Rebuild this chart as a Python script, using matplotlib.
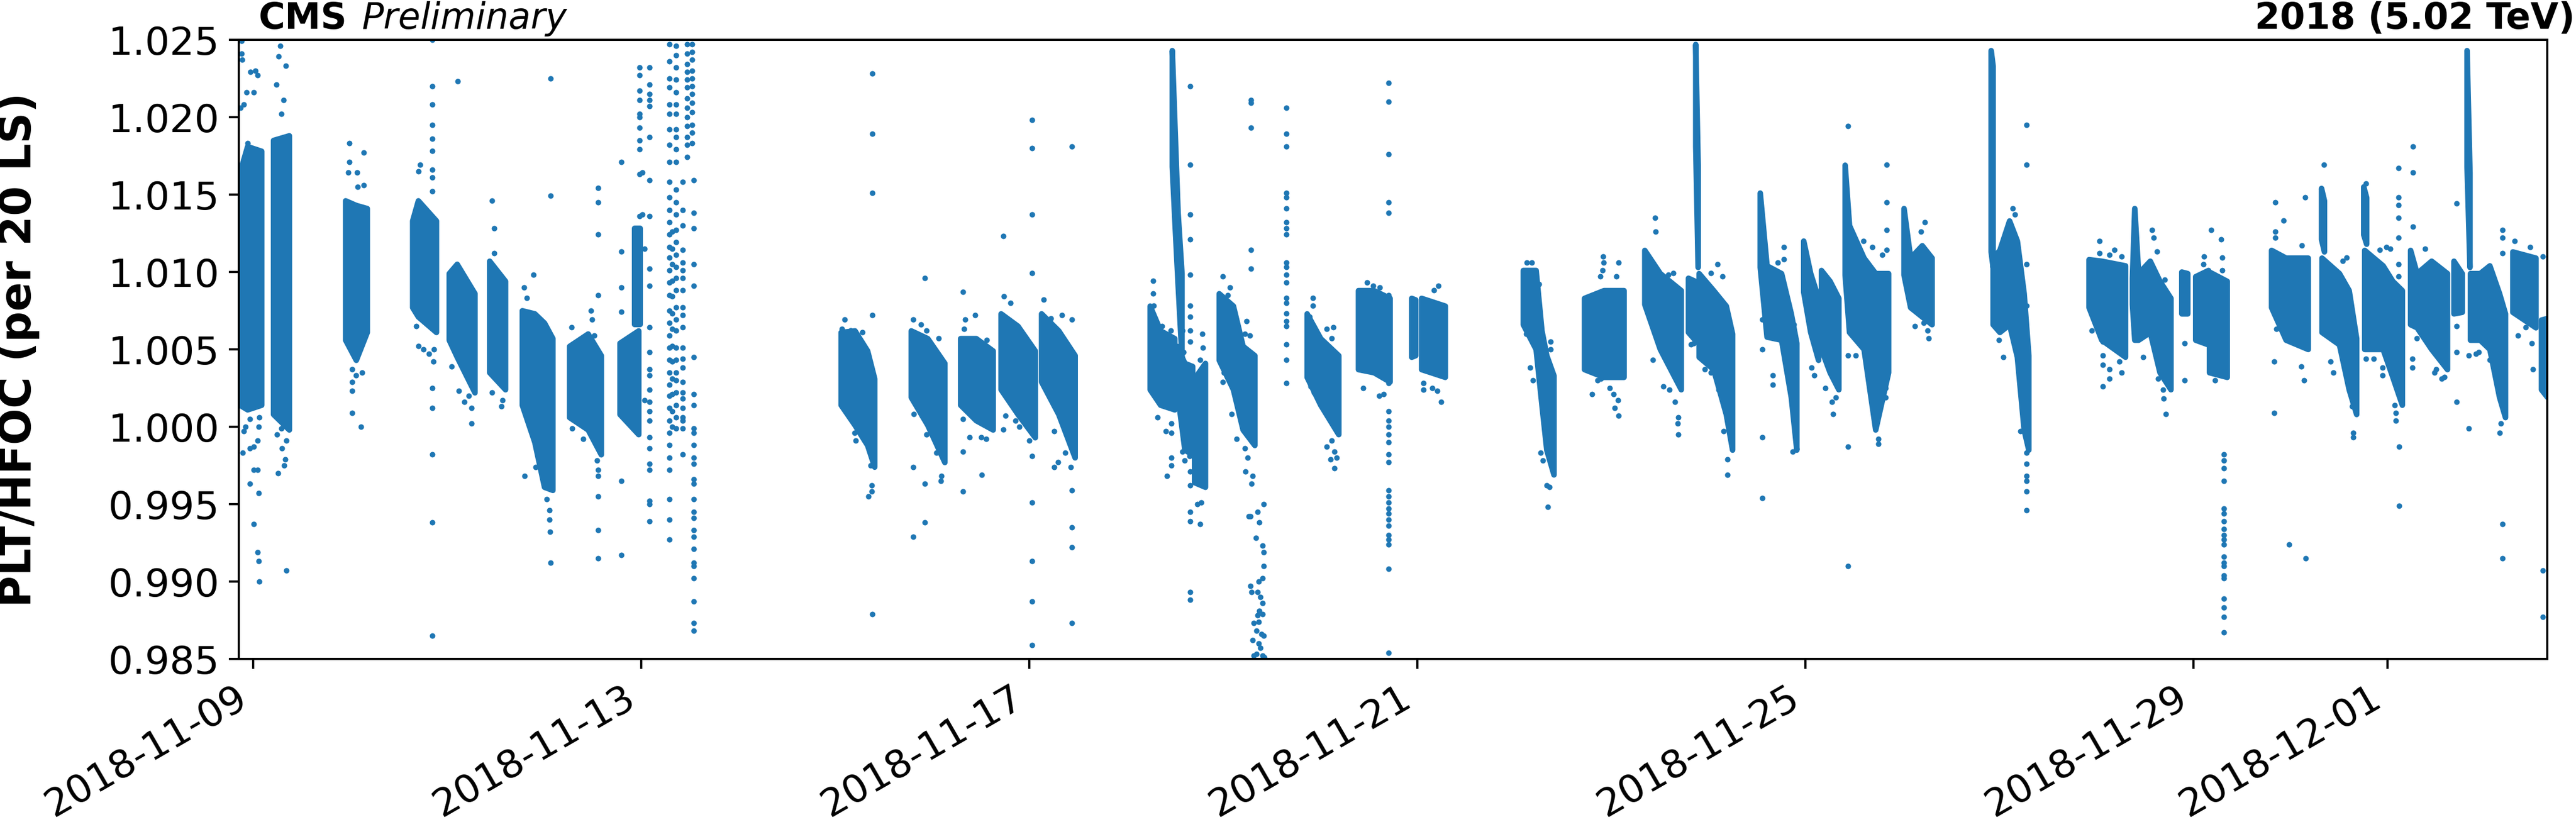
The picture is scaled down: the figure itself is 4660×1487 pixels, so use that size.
import matplotlib
matplotlib.use("Agg")
import matplotlib.pyplot as plt
import matplotlib.dates as mdates
from matplotlib.ticker import FormatStrFormatter
from datetime import datetime

# ---------------- data (time in days since 2018-11-09 00:00) ----------------
start_date = datetime(2018, 11, 9)

# dense cores of each fill: sample times with lower / upper edge of the band
fill_days = [
    [-0.139, -0.06, 0.085], [0.207, 0.37], [0.95, 1.06, 1.173], [1.641, 1.70, 1.886],
    [2.018, 2.10, 2.283], [2.435, 2.598], [2.771, 2.90, 3.0, 3.086], [3.259, 3.45, 3.585],
    [3.778, 3.971], [3.93, 3.99], [6.057, 6.2, 6.33, 6.403], [6.78, 6.95, 7.126],
    [7.289, 7.45, 7.624], [7.706, 7.88, 8.058], [8.123, 8.30, 8.469], [9.242, 9.35, 9.496],
    [9.47, 9.50, 9.53, 9.57], [9.52, 9.60, 9.68], [9.70, 9.812], [9.954, 10.10, 10.20, 10.321],
    [10.86, 11.00, 11.186], [11.389, 11.55, 11.715], [11.938, 11.979], [12.04, 12.284],
    [13.088, 13.22, 13.28, 13.33, 13.404], [13.719, 13.92, 14.126], [14.34, 14.50, 14.716],
    [14.79, 14.86], [14.865, 14.89], [14.90, 15.05, 15.18, 15.245],
    [15.53, 15.60, 15.75, 15.85, 15.907], [15.978, 16.05, 16.131], [16.161, 16.25, 16.34],
    [16.405, 16.45, 16.60, 16.72, 16.853], [17.012, 17.08, 17.20, 17.301], [17.91, 17.93],
    [17.93, 18.0, 18.10, 18.18, 18.25, 18.298], [18.919, 19.05, 19.295],
    [19.366, 19.39, 19.43, 19.55, 19.65, 19.763], [19.875, 19.936], [20.018, 20.15],
    [20.16, 20.343], [20.80, 20.95, 21.178], [21.315, 21.345], [21.32, 21.50, 21.60, 21.677],
    [21.75, 21.78], [21.76, 21.95, 22.05, 22.148], [22.233, 22.30, 22.45, 22.613],
    [22.68, 22.765], [22.815, 22.845], [22.85, 22.95, 23.05, 23.15, 23.211],
    [23.287, 23.525], [23.582, 23.645],
]
fill_low = [
    [1.0014, 1.0011, 1.0014], [1.0008, 0.9998], [1.0056, 1.0043, 1.0061], [1.0077, 1.0071, 1.0061],
    [1.0056, 1.0045, 1.0022], [1.0035, 1.0024], [1.0014, 0.9990, 0.9961, 0.9959], [1.0006, 0.9998, 0.9982],
    [1.0008, 0.9995], [1.0066, 1.0066], [1.0014, 1.0001, 0.9988, 0.9974], [1.0019, 1.0001, 0.9977],
    [1.0014, 1.0004, 0.9998], [1.0024, 1.0008, 0.9993], [1.0029, 1.0008, 0.9980], [1.0024, 1.0014, 1.0011],
    [1.0168, 1.0129, 1.0092, 1.0045], [1.0024, 0.9985, 0.9982], [0.9964, 0.9961], [1.0043, 1.0024, 0.9998, 0.9988],
    [1.0032, 1.0014, 0.9995], [1.0037, 1.0035, 1.0029], [1.0045, 1.0046], [1.0037, 1.0032],
    [1.0066, 1.0050, 1.0014, 0.9985, 0.9969], [1.0037, 1.0032, 1.0032], [1.0079, 1.0050, 1.0024],
    [1.0061, 1.0056], [1.0181, 1.0103], [1.0045, 1.0037, 1.0008, 0.9985],
    [1.0103, 1.0058, 1.0056, 1.0019, 0.9985], [1.0087, 1.0061, 1.0043], [1.0050, 1.0035, 1.0024],
    [1.0098, 1.0061, 1.0050, 0.9998, 1.0035], [1.0098, 1.0077, 1.0071, 1.0066], [1.0113, 1.0103],
    [1.0066, 1.0061, 1.0066, 1.0045, 0.9998, 0.9985], [1.0077, 1.0056, 1.0045],
    [1.0079, 1.0056, 1.0056, 1.0061, 1.0035, 1.0024], [1.0073, 1.0073], [1.0056, 1.0053],
    [1.0035, 1.0032], [1.0077, 1.0056, 1.0050], [1.0121, 1.0113], [1.0061, 1.0053, 1.0024, 1.0008],
    [1.0124, 1.0118], [1.0050, 1.0050, 1.0032, 1.0014], [1.0066, 1.0064, 1.0050, 1.0037],
    [1.0073, 1.0074], [1.0168, 1.0103], [1.0056, 1.0056, 1.0050, 1.0019, 1.0006],
    [1.0074, 1.0064], [1.0024, 1.0019],
]
fill_high = [
    [1.0164, 1.0181, 1.0178], [1.0185, 1.0188], [1.0146, 1.0143, 1.0141], [1.0133, 1.0146, 1.0133],
    [1.0099, 1.0105, 1.0086], [1.0107, 1.0094], [1.0075, 1.0073, 1.0067, 1.0057], [1.0052, 1.0060, 1.0046],
    [1.0054, 1.0062], [1.0128, 1.0128], [1.0061, 1.0062, 1.0049, 1.0031], [1.0062, 1.0057, 1.0041],
    [1.0057, 1.0057, 1.0049], [1.0073, 1.0065, 1.0049], [1.0073, 1.0062, 1.0046], [1.0078, 1.0062, 1.0057],
    [1.0243, 1.0190, 1.0138, 1.0099], [1.0052, 1.0041, 1.0039], [1.0031, 1.0041], [1.0086, 1.0078, 1.0052, 1.0046],
    [1.0073, 1.0057, 1.0046], [1.0088, 1.0088, 1.0083], [1.0083, 1.0082], [1.0083, 1.0078],
    [1.0101, 1.0101, 1.0062, 1.0046, 1.0033], [1.0083, 1.0088, 1.0088], [1.0114, 1.0099, 1.0088],
    [1.0096, 1.0094], [1.0247, 1.0169], [1.0099, 1.0088, 1.0078, 1.0060],
    [1.0151, 1.0104, 1.0099, 1.0073, 1.0054], [1.0120, 1.0099, 1.0083], [1.0101, 1.0094, 1.0083],
    [1.0169, 1.0130, 1.0109, 1.0099, 1.0099], [1.0141, 1.0109, 1.0117, 1.0109], [1.0243, 1.0233],
    [1.0109, 1.0114, 1.0133, 1.0120, 1.0086, 1.0046], [1.0108, 1.0107, 1.0104],
    [1.0096, 1.0141, 1.0099, 1.0107, 1.0094, 1.0083], [1.0100, 1.0099], [1.0097, 1.0101],
    [1.0100, 1.0094], [1.0114, 1.0109, 1.0109], [1.0154, 1.0146], [1.0109, 1.0099, 1.0088, 1.0057],
    [1.0155, 1.0148], [1.0114, 1.0104, 1.0094, 1.0088], [1.0114, 1.0099, 1.0107, 1.0099],
    [1.0107, 1.0099], [1.0243, 1.0164], [1.0099, 1.0099, 1.0104, 1.0086, 1.0073],
    [1.0113, 1.0109], [1.0069, 1.0070],
]

# vertical runs of points recorded at (almost) the same time
column_days = [1.845, 3.554, 3.794, 3.985, 4.083, 4.29, 4.32, 4.36, 4.429, 4.470, 4.521, 4.541,
               6.379, 8.025, 8.438, 9.659, 10.284, 10.646, 11.704, 18.278, 20.313, 22.114]
column_ratios = [
    [1.0250, 1.0220, 1.0208, 1.0195, 1.0186, 1.0178, 1.0166, 1.0161, 1.0152, 1.0025, 1.0012, 0.9982, 0.9938, 0.9865],
    [1.0154, 1.0145, 1.0124, 1.0085, 0.9972, 0.9968, 0.9955, 0.9933, 0.9915],
    [1.0171, 1.0113, 1.0090, 1.0074, 0.9965, 0.9917],
    [1.0232, 1.0227, 1.0217, 1.0211, 1.0202, 1.0200, 1.0193, 1.0185, 1.0179, 1.0163, 1.0136],
    [1.0232, 1.0221, 1.0215, 1.0211, 1.0207, 1.0187, 1.0159, 1.0136, 1.0102, 1.0091, 1.0064, 1.0048, 1.0037,
     1.0033, 1.0024, 1.0016, 1.0010, 1.0004, 0.9993, 0.9986, 0.9976, 0.9972, 0.9952, 0.9950, 0.9939],
    [1.0247, 1.0236, 1.0225, 1.0219, 1.0208, 1.0202, 1.0192, 1.0182, 1.0171, 1.0158, 1.0148, 1.0140, 1.0132,
     1.0124, 1.0116, 1.0109, 1.0101, 1.0093, 1.0085, 1.0075, 1.0067, 1.0059, 1.0051, 1.0043, 1.0035, 1.0027,
     1.0020, 1.0012, 1.0004, 0.9996, 0.9988, 0.9980, 0.9972, 0.9953, 0.9940, 0.9927],
    [1.0126, 1.0115, 1.0105, 1.0094, 1.0084, 1.0073, 1.0063, 1.0052, 1.0042, 1.0031, 1.0021, 1.0010, 1.0000],
    [1.0246, 1.0240, 1.0232, 1.0224, 1.0216, 1.0208, 1.0202, 1.0192, 1.0187, 1.0179, 1.0171, 1.0153, 1.0145,
     1.0137, 1.0127, 1.0119, 1.0111, 1.0103, 1.0096, 1.0088, 1.0077, 1.0069, 1.0062, 1.0051, 1.0043, 1.0035,
     1.0030, 1.0022, 1.0014, 1.0006, 0.9999],
    [1.0158, 1.0140, 1.0130, 1.0114, 1.0106, 1.0101, 1.0096, 1.0088, 1.0077, 1.0072, 1.0064, 1.0051, 1.0044,
     1.0038, 1.0029, 1.0022, 1.0018, 1.0012, 1.0006, 1.0004, 0.9999, 0.9982],
    [1.0247, 1.0241, 1.0234, 1.0229, 1.0224, 1.0219, 1.0212, 1.0206, 1.0200, 1.0194, 1.0187, 1.0182, 1.0174],
    [1.0247, 1.0242, 1.0237, 1.0230, 1.0225, 1.0220, 1.0215, 1.0209, 1.0203, 1.0195, 1.0190, 1.0183],
    [1.0159, 1.0138, 1.0128, 1.0105, 1.0091, 1.0045, 1.0021, 1.0014, 0.9999, 0.9996, 0.9988, 0.9980, 0.9976,
     0.9966, 0.9963, 0.9953, 0.9945, 0.9941, 0.9933, 0.9929, 0.9921, 0.9912, 0.9910, 0.9902, 0.9887, 0.9873, 0.9868],
    [1.0228, 1.0189, 1.0151, 1.0072, 0.9879],
    [1.0198, 1.0180, 1.0137, 1.0099, 0.9981, 0.9951, 0.9913, 0.9887, 0.9859],
    [1.0181, 0.9959, 0.9935, 0.9922, 0.9873],
    [1.0220, 1.0169, 1.0137, 1.0121, 1.0098, 1.0078, 1.0071, 1.0062, 1.0055, 0.9971, 0.9962, 0.9945, 0.9939, 0.9893, 0.9888],
    [1.0211, 1.0209, 1.0193, 1.0114, 1.0102],
    [1.0206, 1.0189, 1.0181, 1.0151, 1.0148, 1.0141, 1.0132, 1.0128, 1.0124, 1.0106, 1.0103, 1.0098, 1.0093,
     1.0083, 1.0080, 1.0073, 1.0068, 1.0065, 1.0053, 1.0043, 1.0028],
    [1.0222, 1.0210, 1.0176, 1.0145, 1.0138, 1.0085, 1.0059, 1.0028, 1.0010, 1.0004, 1.0000, 0.9995, 0.9990,
     0.9982, 0.9977, 0.9959, 0.9955, 0.9951, 0.9947, 0.9944, 0.9940, 0.9936, 0.9930, 0.9927, 0.9924, 0.9908, 0.9854],
    [1.0195, 1.0169, 1.0105, 1.0078, 0.9983, 0.9976, 0.9968, 0.9965, 0.9958, 0.9946],
    [0.9982, 0.9978, 0.9973, 0.9965, 0.9947, 0.9944, 0.9939, 0.9934, 0.9930, 0.9927, 0.9924, 0.9916, 0.9912,
     0.9910, 0.9904, 0.9902, 0.9889, 0.9883, 0.9877, 0.9867],
    [1.0167, 1.0148, 1.0143, 1.0135, 1.0122, 1.0105, 1.0097],
]

# scattered single points around the fills
point_days = [
    -0.119, -0.119, -0.115, -0.027, 0.024, 0.044, 0.003, -0.068, -0.098, -0.129, -0.058, -0.109, -0.037,
    0.003, -0.037, 0.003, 0.044, 0.054, 0.003, 0.044, 0.054, 0.060, -0.098, 0.044, 0.054, -0.037, -0.078,
    -0.129, 0.064,
    0.278, 0.264, 0.335, 0.237, 0.315, 0.288, 0.258, 0.339, 0.319, 0.329, 0.298, 0.247, 0.288, 0.227, 0.339,
    0.990, 0.990, 0.980, 1.137, 1.072, 1.078, 1.137, 1.021, 1.017, 1.021, 1.123, 1.061, 1.017, 1.112,
    1.723, 1.703, 1.682, 1.703, 1.753, 1.814, 1.865, 1.855,
    2.110, 2.048, 2.120, 2.177, 2.252, 2.252, 2.221,
    2.460, 2.486, 2.486, 2.460, 2.557, 2.567,
    2.791, 2.822, 2.887, 2.795, 2.913, 2.944, 3.055, 3.055, 3.059, 3.066, 3.025, 3.066, 3.066,
    3.279, 3.289, 3.483, 3.493, 3.513, 3.401, 3.544,
    4.032, 4.032, 4.012, 4.012,
    6.098, 6.159, 6.067, 6.088, 6.159, 6.281, 6.373, 6.362, 6.342, 6.373, 6.373, 6.210, 6.200,
    6.800, 6.881, 6.942, 7.064, 6.810, 6.891, 6.942, 6.983, 7.044, 7.095, 7.085, 6.800, 6.800, 6.922, 6.922, 6.922,
    7.315, 7.339, 7.441, 7.329, 7.315, 7.384, 7.315, 7.315, 7.508, 7.502, 7.553, 7.563,
    7.730, 7.736, 7.807, 7.730, 7.756, 7.858, 7.899, 8.001,
    8.147, 8.224, 8.336, 8.438, 8.255, 8.296, 8.255, 8.367, 8.428,
    9.273, 9.273, 9.283, 9.364, 9.456, 9.323, 9.405, 9.466, 9.462, 9.466, 9.462, 9.415,
    9.578, 9.588, 9.578, 9.598, 9.649,
    9.781, 9.787, 9.761, 9.771, 9.761, 9.730,
    9.995, 10.066, 10.046, 9.995, 10.005, 10.087, 10.137, 10.219, 10.229, 10.249, 10.300, 10.290, 10.239,
    10.219, 10.270, 10.260,
    10.351, 10.412, 10.371, 10.280, 10.335, 10.402, 10.412, 10.412, 10.280, 10.290, 10.351, 10.402, 10.361,
    10.382, 10.402, 10.371, 10.351, 10.310, 10.402, 10.361, 10.341, 10.392, 10.412, 10.300, 10.361, 10.382,
    10.341, 10.402, 10.310, 10.422,
    10.921, 10.921, 10.890, 11.063, 11.135, 11.114, 10.901, 10.931, 11.063, 11.114, 11.145, 11.165, 11.104, 11.145,
    11.481, 11.542, 11.613, 11.440, 11.603, 11.653,
    12.060, 12.060, 12.152, 12.203, 12.244, 12.213, 12.172, 11.959, 11.959,
    13.129, 13.180, 13.251, 13.119, 13.159, 13.190, 13.271, 13.292, 13.332, 13.363, 13.343, 13.373, 13.373,
    13.912, 13.916, 13.906, 13.882, 14.075, 14.049, 13.801, 13.858, 13.892, 13.984, 14.024, 14.035, 14.065, 14.075,
    14.448, 14.452, 14.427, 14.533, 14.594, 14.655, 14.686, 14.682, 14.686, 14.584, 14.635,
    14.818, 14.849,
    15.022, 15.093, 15.144, 14.960, 15.022, 15.103, 15.154, 15.194, 15.194,
    15.551, 15.551, 15.551, 15.551, 15.663, 15.663, 15.775, 15.775, 15.714, 15.876, 15.866,
    16.059, 16.090, 16.100,
    16.202, 16.273, 16.283, 16.314, 16.314,
    16.436, 16.436, 16.436, 16.436, 16.517, 16.578, 16.690, 16.711, 16.751, 16.751, 16.833, 16.833, 16.833,
    16.833, 16.792, 16.823, 16.823, 16.690, 16.599,
    17.128, 17.219, 17.260, 17.270, 17.230, 17.189,
    18.040, 17.993, 18.135, 18.156, 18.217,
    19.031, 19.031, 19.132, 19.183, 19.255, 18.949, 19.061, 19.061, 19.061, 19.132, 19.132, 19.061, 19.255, 19.234,
    19.570, 19.590, 19.621, 19.702, 19.478, 19.631, 19.682, 19.692, 19.712,
    19.906, 19.906, 20.105, 20.099, 20.180,
    20.282, 20.292, 20.296, 20.221,
    20.842, 20.842, 20.842, 20.832, 20.852, 20.832, 20.832, 20.927, 21.112, 21.151, 21.106, 21.137, 20.984, 21.153,
    21.340, 21.534, 21.574, 21.442, 21.412, 21.635, 21.646, 21.646,
    21.774, 21.778, 21.854, 21.920, 21.987, 22.024, 21.949, 21.949, 22.072, 22.081, 22.081, 22.116, 22.119, 22.119,
    22.258, 22.258, 22.258, 22.252, 22.252, 22.300, 22.385, 22.556, 22.585, 22.499, 22.480,
    22.708, 22.708, 22.708, 22.708,
    22.837, 22.837, 23.183, 23.183, 23.183, 23.183, 23.183, 23.154, 23.164, 22.936, 22.908, 23.050,
    23.306, 23.344, 23.420, 23.468, 23.487, 23.496,
    23.601, 23.601, 23.601,
]
point_ratio = [
    1.0249, 1.0241, 1.0237, 1.0229, 1.0230, 1.0227, 1.0216, 1.0216, 1.0208, 1.0206, 1.0183, 0.9983, 0.9986,
    0.9987, 0.9963, 0.9972, 0.9972, 0.9957, 0.9937, 0.9919, 0.9913, 0.9900, 0.9997, 0.9991, 1.0000, 1.0005, 1.0000,
    1.0017, 1.0006,
    1.0246, 1.0239, 1.0233, 1.0221, 1.0211, 1.0202, 0.9970, 0.9907, 0.9975, 0.9979, 0.9986, 0.9995, 0.9999, 1.0020, 0.9991,
    1.0183, 1.0171, 1.0164, 1.0177, 1.0164, 1.0155, 1.0156, 1.0037, 1.0029, 1.0023, 1.0035, 1.0033, 1.0009, 1.0000,
    1.0169, 1.0165, 1.0065, 1.0052, 1.0050, 1.0047, 1.0050, 1.0042,
    1.0223, 1.0039, 1.0023, 1.0016, 1.0002, 1.0012, 1.0020,
    1.0146, 1.0128, 1.0112, 1.0022, 1.0013, 1.0017,
    1.0090, 1.0083, 1.0098, 0.9968, 0.9974, 0.9978, 0.9946, 0.9940, 0.9932, 0.9912, 0.9953, 1.0225, 1.0149,
    1.0064, 0.9999, 1.0075, 1.0069, 1.0059, 0.9992, 0.9978,
    1.0115, 1.0017, 1.0164, 1.0137,
    1.0069, 1.0062, 1.0063, 1.0012, 1.0062, 1.0061, 1.0033, 0.9975, 0.9955, 0.9962, 0.9958, 0.9991, 0.9996,
    1.0069, 1.0066, 1.0062, 1.0057, 1.0008, 1.0007, 0.9995, 0.9997, 0.9983, 0.9968, 0.9965, 0.9974, 0.9929, 1.0096, 0.9963, 0.9938,
    1.0087, 1.0069, 1.0072, 1.0063, 1.0005, 0.9993, 0.9984, 0.9958, 0.9969, 0.9993, 0.9992, 1.0056,
    1.0123, 1.0084, 1.0080, 0.9998, 1.0007, 1.0004, 1.0000, 0.9991,
    1.0082, 1.0070, 1.0072, 1.0069, 0.9997, 0.9977, 0.9974, 0.9983, 0.9974,
    1.0094, 1.0086, 1.0078, 1.0065, 1.0062, 1.0006, 0.9997, 1.0002, 0.9996, 0.9980, 0.9975, 0.9968,
    1.0062, 1.0048, 0.9984, 0.9978, 0.9981,
    1.0060, 1.0051, 1.0043, 0.9951, 0.9937, 0.9950,
    1.0097, 1.0090, 1.0085, 1.0029, 1.0035, 1.0008, 0.9992, 0.9986, 0.9971, 0.9980, 0.9968, 0.9963, 1.0068,
    1.0060, 1.0059, 0.9942,
    0.9945, 0.9950, 0.9938, 0.9942, 0.9928, 0.9923, 0.9919, 0.9910, 0.9897, 0.9893, 0.9893, 0.9902, 0.9900,
    0.9890, 0.9886, 0.9881, 0.9878, 0.9873, 0.9879, 0.9874, 0.9868, 0.9866, 0.9865, 0.9862, 0.9860, 0.9857,
    0.9853, 0.9852, 0.9852, 0.9851,
    1.0083, 1.0078, 1.0071, 1.0063, 1.0064, 1.0057, 1.0026, 1.0022, 0.9987, 0.9991, 0.9984, 0.9980, 0.9979, 0.9973,
    1.0093, 1.0091, 1.0090, 1.0025, 1.0020, 1.0021,
    1.0028, 1.0024, 1.0025, 1.0023, 1.0016, 1.0091, 1.0088, 1.0054, 1.0046,
    1.0106, 1.0106, 1.0092, 1.0060, 1.0038, 1.0030, 0.9983, 0.9978, 0.9962, 0.9961, 0.9948, 1.0055, 1.0050,
    1.0110, 1.0106, 1.0101, 1.0097, 1.0106, 1.0097, 1.0021, 1.0030, 1.0031, 1.0025, 1.0021, 1.0012, 1.0017, 1.0007,
    1.0135, 1.0126, 1.0043, 1.0026, 1.0024, 1.0016, 1.0006, 1.0002, 0.9995, 1.0098, 1.0099,
    1.0053, 1.0054,
    1.0099, 1.0105, 1.0097, 1.0037, 1.0035, 1.0024, 0.9997, 0.9979, 0.9969,
    1.0069, 1.0050, 0.9993, 0.9954, 1.0033, 1.0027, 1.0116, 1.0108, 1.0106, 1.0066, 0.9984,
    1.0038, 1.0033, 1.0085,
    1.0025, 1.0016, 1.0008, 1.0019, 1.0086,
    1.0194, 1.0046, 0.9987, 0.9910, 1.0046, 1.0059, 1.0041, 1.0010, 0.9992, 0.9989, 1.0169, 1.0145, 1.0127,
    1.0114, 1.0111, 1.0025, 1.0019, 1.0116, 1.0120,
    1.0065, 1.0067, 1.0062, 1.0057, 1.0132, 1.0126,
    1.0045, 1.0056, 1.0141, 1.0137, 0.9997,
    1.0120, 1.0112, 1.0111, 1.0114, 1.0110, 1.0062, 1.0055, 1.0046, 1.0040, 1.0037, 1.0031, 1.0026, 1.0035, 1.0042,
    1.0127, 1.0122, 1.0113, 1.0095, 1.0045, 1.0031, 1.0024, 1.0018, 1.0008,
    1.0054, 1.0030, 1.0110, 1.0105, 1.0127,
    1.0121, 1.0109, 1.0101, 1.0030,
    1.0145, 1.0126, 1.0122, 1.0073, 1.0063, 1.0042, 1.0009, 1.0133, 1.0117, 1.0148, 1.0039, 1.0030, 0.9924, 0.9915,
    1.0169, 1.0107, 1.0109, 1.0035, 1.0042, 1.0013, 0.9996, 0.9993,
    1.0157, 1.0044, 1.0044, 1.0114, 1.0116, 1.0115, 1.0038, 1.0033, 1.0014, 1.0009, 1.0004, 1.0026, 0.9987, 0.9949,
    1.0181, 1.0164, 1.0129, 1.0044, 1.0038, 1.0057, 1.0115, 1.0031, 1.0032, 1.0037, 1.0035,
    1.0144, 1.0048, 1.0016, 1.0065,
    1.0046, 0.9999, 1.0127, 1.0122, 1.0112, 0.9937, 0.9915, 0.9996, 1.0002, 1.0048, 1.0047, 1.0043,
    1.0120, 1.0059, 1.0064, 1.0116, 1.0054, 1.0037,
    1.0110, 0.9907, 0.9877,
]

y_ticks = [0.985, 0.990, 0.995, 1.000, 1.005, 1.010, 1.015, 1.020, 1.025]
x_range_days = (-0.148, 23.647)
y_range = (0.985, 1.025)

# ---------------- plotting ----------------
DPI = 362
fig = plt.figure(figsize=(4660.5 / DPI, 1487.5 / DPI), dpi=DPI)
ax = fig.add_axes([432 / 4660, 1 - 1192 / 1487, (4608 - 432) / 4660, (1192 - 72) / 1487])

blue = "#1f77b4"
t0 = mdates.date2num(start_date)

for days, lo, hi in zip(fill_days, fill_low, fill_high):
    x = [t0 + d for d in days]
    band = ax.fill_between(x, lo, hi, color=blue, edgecolor=blue, linewidth=2.0)
    band.set_joinstyle("round")
    band.set_capstyle("round")

col_x, col_y = [], []
for d, vals in zip(column_days, column_ratios):
    col_x += [t0 + d] * len(vals)
    col_y += vals
ax.scatter(col_x, col_y, s=4, color=blue, linewidths=0)
ax.scatter([t0 + d for d in point_days], point_ratio, s=4, color=blue, linewidths=0)

ax.set_xlim(t0 + x_range_days[0], t0 + x_range_days[1])
ax.set_ylim(*y_range)
ax.set_yticks(y_ticks)
ax.yaxis.set_major_formatter(FormatStrFormatter("%.3f"))
ax.xaxis.set_major_locator(mdates.DayLocator(bymonthday=[1, 5, 9, 13, 17, 21, 25, 29]))
ax.xaxis.set_major_formatter(mdates.DateFormatter("%Y-%m-%d"))
ax.tick_params(axis="both", labelsize=14)
for lab in ax.get_xticklabels():
    lab.set_rotation(30)
    lab.set_ha("right")

ax.set_ylabel("PLT/HFOC (per 20 LS)", fontsize=15.5, fontweight="bold")
ax.yaxis.set_label_coords(-0.0862, 0.5)

ax.text(0.0086, 1.018, "CMS", transform=ax.transAxes, fontsize=13, fontweight="bold",
        ha="left", va="baseline")
ax.text(0.0532, 1.018, "Preliminary", transform=ax.transAxes, fontsize=13, style="italic",
        ha="left", va="baseline")
ax.text(1.012, 1.018, "2018 (5.02 TeV)", transform=ax.transAxes, fontsize=13, fontweight="bold",
        ha="right", va="baseline")

fig.savefig("out.png", dpi=DPI)
